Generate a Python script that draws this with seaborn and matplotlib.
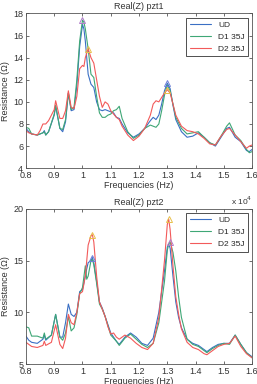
import numpy as np
import pandas as pd
import seaborn as sns
import matplotlib
matplotlib.use('Agg')
import matplotlib.pyplot as plt
from matplotlib.ticker import FuncFormatter

# frequencies in units of 1e4 Hz
freq1 = [0.80, 0.81, 0.82, 0.84, 0.85, 0.86, 0.865, 0.87, 0.88, 0.90, 0.905, 0.92, 0.93, 0.94, 0.95,
         0.96, 0.97, 0.98, 0.99, 1.00, 1.005, 1.01, 1.02, 1.03, 1.04, 1.05, 1.06, 1.07, 1.08, 1.09,
         1.10, 1.11, 1.12, 1.13, 1.14, 1.16, 1.18, 1.20, 1.22, 1.24, 1.25, 1.26, 1.27, 1.28, 1.29,
         1.30, 1.31, 1.32, 1.33, 1.35, 1.37, 1.39, 1.41, 1.43, 1.45, 1.47, 1.49, 1.51, 1.52, 1.54,
         1.56, 1.58, 1.59, 1.60]
ud1 = [7.6, 7.3, 7.1, 7.0, 7.1, 7.2, 7.4, 7.0, 7.3, 8.8, 9.6, 7.6, 7.3, 8.2, 10.8,
       9.2, 9.3, 11.5, 15.0, 17.0, 16.6, 15.5, 12.5, 11.6, 11.3, 10.0, 9.3, 9.2, 9.3, 9.2,
       9.1, 9.0, 8.6, 8.5, 8.0, 7.2, 6.8, 7.1, 7.6, 8.3, 8.6, 8.4, 8.8, 9.8, 11.0,
       11.7, 11.2, 9.7, 8.4, 7.3, 6.8, 6.9, 7.2, 6.8, 6.3, 6.0, 6.8, 7.6, 7.7, 6.8,
       6.4, 5.6, 5.5, 5.7]
d1_1 = [7.7, 7.6, 7.1, 7.0, 7.1, 7.2, 7.3, 7.0, 7.3, 8.9, 9.7, 7.6, 7.5, 8.4, 10.8,
        9.3, 9.5, 12.0, 15.5, 17.4, 17.2, 16.6, 14.8, 12.5, 12.2, 10.5, 9.0, 8.6, 8.6, 8.8,
        8.9, 9.2, 9.3, 9.6, 8.5, 7.3, 6.7, 7.0, 7.6, 7.9, 7.8, 7.7, 8.0, 9.2, 10.6,
        11.5, 11.0, 9.8, 8.6, 7.6, 7.1, 7.2, 7.3, 6.8, 6.3, 6.1, 6.9, 7.8, 8.1, 7.0,
        6.5, 5.7, 5.4, 5.5]
d2_1 = [7.4, 7.2, 7.1, 7.0, 7.4, 8.0, 8.0, 8.0, 8.3, 9.3, 10.1, 8.5, 8.5, 9.2, 11.0,
        9.5, 9.4, 10.5, 13.0, 13.3, 13.2, 14.0, 14.8, 14.0, 13.5, 12.0, 10.5, 9.5, 10.0, 9.8,
        9.2, 8.9, 8.6, 8.4, 7.8, 7.0, 6.5, 6.9, 7.6, 8.8, 9.8, 10.1, 10.0, 10.4, 10.8,
        11.1, 10.8, 9.8, 8.8, 7.8, 7.4, 7.3, 7.1, 6.7, 6.2, 6.1, 6.9, 7.5, 7.6, 7.0,
        6.4, 5.8, 6.0, 6.1]

freq2 = [0.80, 0.81, 0.82, 0.84, 0.86, 0.865, 0.87, 0.89, 0.905, 0.92, 0.93, 0.94, 0.95, 0.96, 0.97,
         0.98, 0.99, 1.00, 1.01, 1.015, 1.02, 1.03, 1.035, 1.04, 1.05, 1.06, 1.07, 1.08, 1.09, 1.10,
         1.11, 1.12, 1.13, 1.15, 1.17, 1.19, 1.21, 1.23, 1.25, 1.27, 1.29, 1.30, 1.305, 1.31, 1.32,
         1.33, 1.34, 1.35, 1.37, 1.39, 1.41, 1.43, 1.44, 1.46, 1.48, 1.50, 1.52, 1.54, 1.56, 1.58,
         1.60]
ud2 = [7.7, 7.3, 7.1, 7.0, 7.4, 7.8, 7.3, 7.8, 9.8, 7.6, 7.6, 9.0, 10.8, 9.8, 9.6,
       10.0, 12.0, 12.2, 13.5, 14.2, 14.8, 15.0, 15.3, 14.8, 13.0, 11.0, 10.4, 9.6, 8.8, 8.0,
       7.6, 7.2, 6.9, 7.6, 8.0, 7.6, 7.0, 6.8, 7.5, 10.0, 14.0, 16.3, 16.6, 16.2, 13.5,
       11.0, 9.5, 8.5, 7.4, 7.0, 6.8, 6.4, 6.2, 6.6, 6.9, 7.0, 7.0, 7.8, 6.9, 6.1,
       5.7]
d1_2 = [8.6, 8.5, 7.7, 7.7, 7.5, 8.0, 7.4, 7.8, 9.8, 7.6, 7.3, 8.0, 9.6, 8.2, 8.5,
        9.8, 11.8, 12.4, 14.5, 13.2, 13.5, 15.0, 15.1, 14.6, 12.8, 10.8, 10.3, 9.6, 8.7, 7.8,
        7.5, 7.2, 6.8, 7.5, 7.9, 7.4, 6.9, 6.6, 7.0, 9.0, 13.0, 16.0, 16.6, 16.8, 15.8,
        14.0, 11.5, 9.5, 7.4, 6.9, 6.7, 6.3, 6.1, 6.5, 6.8, 7.0, 6.9, 7.8, 6.9, 6.1,
        5.6]
d2_2 = [7.1, 6.9, 6.7, 6.6, 6.8, 7.2, 6.8, 7.1, 8.8, 6.9, 6.5, 7.5, 9.8, 9.0, 8.8,
        10.0, 11.8, 12.0, 13.5, 15.0, 16.5, 17.4, 17.5, 16.8, 13.5, 11.0, 10.3, 9.6, 8.6, 7.9,
        8.0, 7.6, 7.4, 7.8, 7.5, 7.0, 6.6, 6.4, 7.0, 9.5, 15.0, 18.5, 19.0, 18.0, 14.5,
        11.5, 9.8, 8.4, 7.1, 6.6, 6.4, 6.0, 5.9, 6.3, 6.7, 6.9, 7.0, 7.7, 6.7, 6.0,
        5.6]

cases = ['UD', 'D1 35J', 'D2 35J']
line_colors = {'UD': '#3a6fc4', 'D1 35J': '#3fa776', 'D2 35J': '#f25a5a'}
peak_colors = {'UD': '#6f7fd8', 'D1 35J': '#b07ac8', 'D2 35J': '#e8c04a'}
peak_windows = [(0.95, 1.1), (1.25, 1.35)]

sns.set_style('ticks')
plt.rcParams['font.family'] = ['Liberation Sans', 'DejaVu Sans']
plt.rcParams['font.size'] = 6.5


def mark_peak(ax, df, c, lo, hi):
    sub = df[(df['f'] >= lo * 1e4) & (df['f'] <= hi * 1e4)]
    i = sub[c].idxmax()
    ax.plot(sub.loc[i, 'f'], sub.loc[i, c], marker='^', ms=4, mfc='none',
            mec=peak_colors[c], mew=0.7, ls='none')


def draw(ax, freq, ud, d1, d2, title, ylim, yticks):
    f = np.array(freq) * 1e4
    df = pd.DataFrame({'f': f, 'UD': ud, 'D1 35J': d1, 'D2 35J': d2})
    long = df.melt(id_vars='f', var_name='case', value_name='R')
    sns.lineplot(data=long, x='f', y='R', hue='case', hue_order=cases, palette=line_colors,
                 estimator=None, sort=False, lw=0.8, ax=ax)
    # peak markers: highest of UD / D1, plus D2
    for lo, hi in peak_windows:
        sub = df[(df['f'] >= lo * 1e4) & (df['f'] <= hi * 1e4)]
        top = 'UD' if sub['UD'].max() >= sub['D1 35J'].max() else 'D1 35J'
        mark_peak(ax, df, top, lo, hi)
        mark_peak(ax, df, 'D2 35J', lo, hi)
    ax.set_xlim(8000, 16000)
    ax.set_ylim(*ylim)
    ax.set_yticks(yticks)
    ax.set_xticks(np.arange(8000, 16001, 1000))
    ax.xaxis.set_major_formatter(FuncFormatter(lambda v, p: '%g' % (v / 1e4)))
    ax.tick_params(direction='in', top=True, right=True, length=2.5, width=0.5,
                   labelsize=6.5, pad=2, colors='#333333')
    for s in ax.spines.values():
        s.set_linewidth(0.6)
        s.set_color('#555555')
    ax.set_title(title, fontsize=6.5, pad=3, color='#333333')
    ax.set_xlabel('Frequencies (Hz)', fontsize=6.5, labelpad=1, color='#333333')
    ax.set_ylabel('Resistance (Ω)', fontsize=6.5, labelpad=2, color='#333333')
    ax.text(1.0, -0.17, 'x 10$^4$', transform=ax.transAxes, ha='right', va='top',
            fontsize=6, color='#333333')
    sns.move_legend(ax, 'upper right', title=None, frameon=True, fancybox=False,
                    edgecolor='black', fontsize=6, handlelength=2.6, borderaxespad=0.5,
                    labelspacing=0.5, borderpad=0.4)
    ax.get_legend().get_frame().set_linewidth(0.6)


fig = plt.figure(figsize=(2.57, 3.84), dpi=100)
ax1 = fig.add_axes([0.101, 0.562, 0.880, 0.403])
ax2 = fig.add_axes([0.101, 0.052, 0.880, 0.404])
draw(ax1, freq1, ud1, d1_1, d2_1, 'Real(Z) pzt1', (4, 18), [4, 6, 8, 10, 12, 14, 16, 18])
draw(ax2, freq2, ud2, d1_2, d2_2, 'Real(Z) pzt2', (5, 20), [5, 10, 15, 20])

fig.savefig('out.png', dpi=100)
